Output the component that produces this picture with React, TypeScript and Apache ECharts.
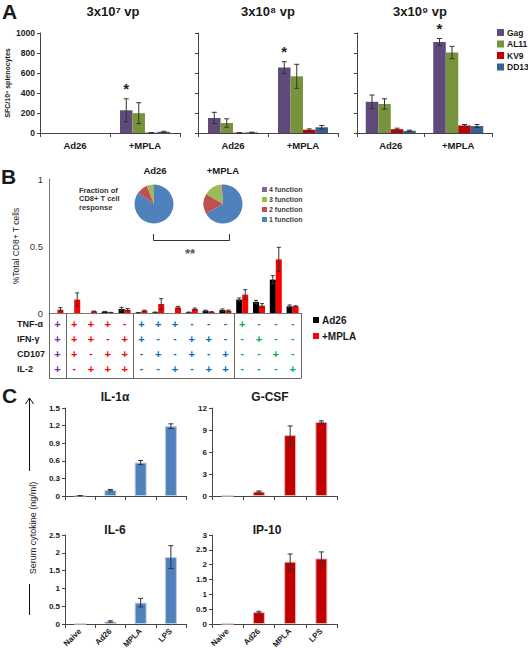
import React, { useEffect, useRef } from "react";
import * as echarts from "echarts";

const FONT = "Arial";

// ---------- Panel A ----------
const doseGroups = ["Ad26", "+MPLA"];
const antigens = ["Gag", "AL11", "KV9", "DD13"];
const antigenColors = ["#604A7B", "#77933C", "#C00000", "#376092"];
const doseTitles = ["3x10⁷ vp", "3x10⁸ vp", "3x10⁹ vp"];
// [antigen][group]
const dose7Mean = [[0, 227], [0, 198], [0, 3], [0, 12]];
const dose7Err = [[0, 115], [0, 105], [0, 2], [0, 5]];
const dose8Mean = [[150, 655], [100, 567], [3, 33], [6, 57]];
const dose8Err = [[57, 58], [42, 120], [1, 8], [2, 18]];
const dose9Mean = [[312, 910], [290, 805], [38, 75], [22, 70]];
const dose9Err = [[68, 35], [52, 62], [10, 10], [6, 15]];
const gagStars = [[false, true], [false, true], [false, true]];

// ---------- Panel B ----------
const functionCols = ["c1", "c2", "c3", "c4", "c5", "c6", "c7", "c8", "c9", "c10", "c11", "c12", "c13", "c14", "c15"];
const ad26Pct = [0, 0, 0, 0.01, 0.03, 0.003, 0.005, 0, 0.005, 0.017, 0.022, 0.1, 0.082, 0.249, 0.05];
const ad26PctErr = [0, 0, 0, 0.002, 0.012, 0.001, 0.002, 0, 0.002, 0.004, 0.008, 0.012, 0.012, 0.03, 0.01];
const mplaPct = [0.025, 0.1, 0.012, 0.004, 0.025, 0.017, 0.067, 0.042, 0.03, 0.008, 0.017, 0.137, 0.055, 0.4, 0.05];
const mplaPctErr = [0.015, 0.05, 0.002, 0.001, 0.008, 0.004, 0.04, 0.008, 0.007, 0.002, 0.005, 0.037, 0.015, 0.09, 0.004];
const tableRows = ["TNF-α", "IFN-γ", "CD107", "IL-2"];
const tnfSigns = ["+", "+", "+", "+", "-", "+", "+", "+", "-", "-", "-", "+", "-", "-", "-"];
const ifnSigns = ["+", "+", "+", "-", "+", "+", "-", "-", "+", "+", "-", "-", "+", "-", "-"];
const cd107Signs = ["+", "+", "-", "+", "+", "-", "+", "-", "+", "-", "+", "-", "-", "+", "-"];
const il2Signs = ["+", "-", "+", "+", "+", "-", "-", "+", "-", "+", "+", "-", "-", "-", "+"];
const colGroup = [0, 1, 1, 1, 1, 2, 2, 2, 2, 2, 2, 3, 3, 3, 3];
const groupColors = ["#7030A0", "#FF0000", "#0070C0", "#00B050"];
// table vertical rules: [column index, side] (side 0 = left edge, 1 = right edge)
const tableRules = [[0, 0], [1, 0], [5, 0], [11, 0], [14, 1]];
const pieNames = ["1 function", "2 function", "3 function", "4 function"];
const pieColors = ["#4F81BD", "#C0504D", "#9BBB59", "#8064A2"];
const pieAd26 = [0.85, 0.09, 0.055, 0.005];
const pieMpla = [0.67, 0.165, 0.155, 0.01];

// ---------- Panel C ----------
const treatments = ["Naive", "Ad26", "MPLA", "LPS"];
const il1a = [0.005, 0.1, 0.57, 1.19];
const il1aErr = [0.003, 0.012, 0.035, 0.04];
const gcsf = [0, 0.6, 8.3, 10.1];
const gcsfErr = [0, 0.08, 1.25, 0.15];
const il6 = [0, 0.07, 0.6, 1.88];
const il6Err = [0, 0.02, 0.12, 0.32];
const ip10 = [0, 0.4, 2.1, 2.21];
const ip10Err = [0, 0.03, 0.26, 0.22];

const fmt = (v: number) => String(+v.toFixed(2));

function errorRender(offset: number, cap: number, color: string, stars?: boolean[]) {
  return (params: any, api: any) => {
    const i = api.value(0);
    const v = api.value(1);
    const e = api.value(2);
    const hi = api.coord([i, v + e]);
    const x = hi[0] + offset;
    const children: any[] = [];
    if (e > 0) {
      const lo = api.coord([i, Math.max(0, v - e)]);
      const st = { stroke: color, lineWidth: 1 };
      children.push({ type: "line", shape: { x1: x, y1: hi[1], x2: x, y2: lo[1] }, style: st });
      children.push({ type: "line", shape: { x1: x - cap, y1: hi[1], x2: x + cap, y2: hi[1] }, style: st });
      children.push({ type: "line", shape: { x1: x - cap, y1: lo[1], x2: x + cap, y2: lo[1] }, style: st });
    }
    if (stars && stars[params.dataIndex]) {
      children.push({
        type: "text",
        x,
        y: hi[1] - 10,
        style: { text: "*", fill: "#222", fontSize: 15, fontWeight: "bold", fontFamily: FONT, align: "center", verticalAlign: "middle" },
      });
    }
    return { type: "group", children };
  };
}

function txt(text: string, x: number, y: number, size: number, o: any = {}) {
  return {
    type: "text",
    x,
    y,
    rotation: o.rotation || 0,
    style: {
      text,
      fontSize: size,
      fontFamily: FONT,
      fontWeight: o.bold === false ? "normal" : "bold",
      fill: o.fill || "#1a1a1a",
      align: o.align || "center",
      verticalAlign: o.va || "middle",
      lineHeight: o.lineHeight,
    },
  };
}

function buildOption() {
  const grid: any[] = [
    { left: 40, top: 33, width: 140, height: 100 },
    { left: 198, top: 33, width: 140, height: 100 },
    { left: 357, top: 33, width: 135, height: 100 },
    { left: 49, top: 179, width: 252, height: 134 },
    { left: 49, top: 316, width: 252, height: 60 },
    { left: 65, top: 408, width: 121, height: 88 },
    { left: 212, top: 408, width: 125, height: 88 },
    { left: 65, top: 535, width: 121, height: 89 },
    { left: 212, top: 535, width: 125, height: 89 },
  ].map((g) => ({ ...g, outerBoundsMode: "none", containLabel: false }));

  const xAxis: any[] = [];
  const yAxis: any[] = [];
  const series: any[] = [];
  const axisLine = { show: true, lineStyle: { color: "#444", width: 1 } };

  // Panel A
  const means = [dose7Mean, dose8Mean, dose9Mean];
  const errs = [dose7Err, dose8Err, dose9Err];
  for (let d = 0; d < 3; d++) {
    xAxis.push({
      type: "category", gridIndex: d, data: doseGroups, axisLine,
      axisTick: { show: true, length: 4, lineStyle: { color: "#444" } },
      axisLabel: { fontSize: 9.5, fontWeight: "bold", color: "#1a1a1a", fontFamily: FONT, margin: 7 },
    });
    yAxis.push({
      type: "value", gridIndex: d, min: 0, max: 1000, interval: 200, axisLine,
      axisTick: { show: true, length: 3, lineStyle: { color: "#444" } },
      splitLine: { show: false },
      axisLabel: { show: d === 0, fontSize: 8.5, fontWeight: "bold", color: "#1a1a1a", fontFamily: FONT, margin: 5, formatter: (v: number) => String(v) },
      name: d === 0 ? "SFC/10⁶ splenocytes" : "",
      nameLocation: "middle", nameGap: 29,
      nameTextStyle: { fontSize: 7, fontWeight: "bold", color: "#1a1a1a", fontFamily: FONT },
    });
    for (let a = 0; a < 4; a++) {
      series.push({
        type: "bar", name: antigens[a], xAxisIndex: d, yAxisIndex: d,
        data: means[d][a], barWidth: 12.5, barGap: "0%",
        itemStyle: { color: antigenColors[a] }, silent: true,
      });
    }
    for (let a = 0; a < 4; a++) {
      series.push({
        type: "custom", xAxisIndex: d, yAxisIndex: d, silent: true, z: 5,
        renderItem: errorRender((a - 1.5) * 12.5, 2.5, "#333", a === 0 ? gagStars[d] : undefined),
        encode: { x: 0, y: 1 },
        data: doseGroups.map((_, g) => [g, means[d][a][g], errs[d][a][g]]),
      });
    }
  }

  // Panel B main
  xAxis.push({
    type: "category", gridIndex: 3, data: functionCols,
    axisLine: { show: true, lineStyle: { color: "#777" } }, axisTick: { show: false }, axisLabel: { show: false },
  });
  yAxis.push({
    type: "value", gridIndex: 3, min: 0, max: 1, interval: 0.5,
    axisLine: { show: true, lineStyle: { color: "#777" } }, axisTick: { show: false }, splitLine: { show: false },
    axisLabel: { fontSize: 9.5, lineHeight: 9, color: "#333", fontFamily: FONT, margin: 6, formatter: fmt },
    name: "%Total CD8+ T cells", nameLocation: "middle", nameGap: 29,
    nameTextStyle: { fontSize: 8.5, color: "#222", fontFamily: FONT },
  });
  series.push(
    { type: "bar", name: "Ad26", xAxisIndex: 3, yAxisIndex: 3, data: ad26Pct, barWidth: 6, barGap: "0%", itemStyle: { color: "#000" }, silent: true },
    { type: "bar", name: "+MPLA", xAxisIndex: 3, yAxisIndex: 3, data: mplaPct, barWidth: 6, barGap: "0%", itemStyle: { color: "#FF0000" }, silent: true },
    {
      type: "custom", xAxisIndex: 3, yAxisIndex: 3, silent: true, z: 5, encode: { x: 0, y: 1 },
      renderItem: errorRender(-3, 2, "#333"),
      data: ad26Pct.map((v, i) => [i, v, ad26PctErr[i]]),
    },
    {
      type: "custom", xAxisIndex: 3, yAxisIndex: 3, silent: true, z: 5, encode: { x: 0, y: 1 },
      renderItem: errorRender(3, 2, "#333"),
      data: mplaPct.map((v, i) => [i, v, mplaPctErr[i]]),
    }
  );

  // Panel B table
  xAxis.push({
    type: "category", gridIndex: 4, data: functionCols,
    axisLine: { show: false }, axisTick: { show: false }, axisLabel: { show: false },
  });
  yAxis.push({
    type: "category", gridIndex: 4, data: tableRows, inverse: true,
    axisLine: { show: false }, axisTick: { show: false }, splitLine: { show: false },
    axisLabel: { align: "left", margin: 32, fontSize: 9, lineHeight: 9, fontWeight: "bold", color: "#1a1a1a", fontFamily: FONT },
  });
  const signRows = [tnfSigns, ifnSigns, cd107Signs, il2Signs];
  const signData: number[][] = [];
  const signText: string[] = [];
  const signColor: string[] = [];
  signRows.forEach((row, r) =>
    row.forEach((s, c) => {
      signData.push([c, r]);
      signText.push(s);
      signColor.push(groupColors[colGroup[c]]);
    })
  );
  series.push({
    type: "custom", xAxisIndex: 4, yAxisIndex: 4, silent: true, encode: { x: 0, y: 1 },
    data: signData,
    renderItem: (params: any, api: any) => {
      const p = api.coord([api.value(0), api.value(1)]);
      const i = params.dataIndex;
      const plus = signText[i] === "+";
      return {
        type: "text", x: p[0], y: p[1],
        style: {
          text: signText[i], fill: signColor[i], fontSize: plus ? 11 : 10, fontWeight: "bold",
          fontFamily: FONT, align: "center", verticalAlign: "middle",
        },
      };
    },
  });
  series.push({
    type: "custom", xAxisIndex: 4, yAxisIndex: 4, silent: true, encode: { x: 0, y: 1 },
    data: tableRules,
    renderItem: (params: any, api: any) => {
      const band = api.size([1, 0])[0];
      const x = Math.round(api.coord([api.value(0), 0])[0] - band / 2 + api.value(1) * band) + 0.5;
      const cs = params.coordSys;
      const top = cs.y - 3;
      const bottom = cs.y + cs.height + 2.5;
      const st = { stroke: "#666", lineWidth: 1 };
      const children: any[] = [{ type: "line", shape: { x1: x, y1: top, x2: x, y2: bottom }, style: st }];
      if (params.dataIndex === 0) {
        children.push({ type: "line", shape: { x1: cs.x, y1: bottom, x2: cs.x + cs.width, y2: bottom }, style: st });
      }
      return { type: "group", children };
    },
  });

  // Pies
  const pieSeries = (center: number[], vals: number[]) => ({
    type: "pie", center, radius: 19.5, startAngle: 90, clockwise: true, silent: true,
    label: { show: false }, labelLine: { show: false },
    itemStyle: { borderWidth: 0 },
    data: pieNames.map((n, k) => ({ name: n, value: vals[k], itemStyle: { color: pieColors[k] } })),
  });
  series.push(pieSeries([154, 204], pieAd26), pieSeries([223, 204], pieMpla));

  // Panel C
  const cSets = [
    { data: il1a, err: il1aErr, max: 1.5, interval: 0.3, color: "#4F81BD", border: "#B9CDE5", labels: false },
    { data: gcsf, err: gcsfErr, max: 12, interval: 3, color: "#C00000", border: "#E6B9B8", labels: false },
    { data: il6, err: il6Err, max: 2.5, interval: 0.5, color: "#4F81BD", border: "#B9CDE5", labels: true },
    { data: ip10, err: ip10Err, max: 3, interval: 0.5, color: "#C00000", border: "#E6B9B8", labels: true },
  ];
  cSets.forEach((s, k) => {
    const gi = 5 + k;
    xAxis.push({
      type: "category", gridIndex: gi, data: treatments, axisLine,
      axisTick: { show: true, length: 4, lineStyle: { color: "#444" } },
      axisLabel: { show: s.labels, rotate: 45, fontSize: 8, fontWeight: "bold", color: "#1a1a1a", fontFamily: FONT, margin: 6 },
    });
    yAxis.push({
      type: "value", gridIndex: gi, min: 0, max: s.max, interval: s.interval, axisLine,
      axisTick: { show: true, length: 3, lineStyle: { color: "#444" } }, splitLine: { show: false },
      axisLabel: { fontSize: 8, fontWeight: "bold", color: "#1a1a1a", fontFamily: FONT, margin: 5, formatter: fmt },
    });
    series.push({
      type: "bar", xAxisIndex: gi, yAxisIndex: gi, data: s.data, barWidth: 12, silent: true,
      itemStyle: { color: s.color, borderColor: s.border, borderWidth: 1 },
    });
    series.push({
      type: "custom", xAxisIndex: gi, yAxisIndex: gi, silent: true, z: 5, encode: { x: 0, y: 1 },
      renderItem: errorRender(0, 2.5, "#333"),
      data: s.data.map((v, i) => [i, v, s.err[i]]),
    });
  });

  const legend = [
    {
      data: antigens, orient: "vertical", left: 497, top: 28, padding: 0, itemWidth: 7, itemHeight: 7, itemGap: 2.5,
      icon: "rect", selectedMode: false,
      textStyle: { fontSize: 8.5, fontWeight: "bold", color: "#1a1a1a", fontFamily: FONT, padding: [0, 0, 0, -2] },
    },
    {
      data: ["4 function", "3 function", "2 function", "1 function"], orient: "vertical", left: 262, top: 186, padding: 0,
      itemWidth: 5, itemHeight: 5, itemGap: 3, icon: "rect", selectedMode: false,
      textStyle: { fontSize: 7, fontWeight: "bold", color: "#404040", fontFamily: FONT, padding: [0, 0, 0, -3] },
    },
    {
      data: ["Ad26", "+MPLA"], orient: "vertical", left: 313, top: 315, padding: 0,
      itemWidth: 6, itemHeight: 6, itemGap: 6, icon: "rect", selectedMode: false,
      textStyle: { fontSize: 10, fontWeight: "bold", color: "#1a1a1a", fontFamily: FONT, padding: [0, 0, 0, -2] },
    },
  ];

  const graphic: any[] = [
    txt("A", 2, 11, 21, { align: "left" }),
    txt("B", 1, 176, 21, { align: "left" }),
    txt("C", 2, 395, 21, { align: "left" }),
    txt(doseTitles[0], 113, 11, 13),
    txt(doseTitles[1], 268, 11, 13),
    txt(doseTitles[2], 420, 11, 13),
    txt("Ad26", 155, 170, 9.5),
    txt("+MPLA", 223, 170, 9.5),
    txt("Fraction of\nCD8+ T cell\nresponse", 79, 186, 7.5, { align: "left", va: "top", lineHeight: 8.6, fill: "#333" }),
    {
      type: "polyline",
      shape: { points: [[153.5, 234], [153.5, 240.5], [229.5, 240.5], [229.5, 234]] },
      style: { stroke: "#333", lineWidth: 1, fill: null },
    },
    txt("**", 190, 253, 13, { fill: "#555" }),
    txt("IL-1α", 115, 397, 12),
    txt("G-CSF", 270, 397, 12),
    txt("IL-6", 115, 530, 12),
    txt("IP-10", 267, 530, 12),
    txt("Serum cytokine (ng/ml)", 33, 528, 9, { bold: false, rotation: Math.PI / 2 }),
    { type: "line", shape: { x1: 29.5, y1: 471, x2: 29.5, y2: 398 }, style: { stroke: "#111", lineWidth: 1 } },
    { type: "polyline", shape: { points: [[25.5, 404], [29.5, 398], [33.5, 404]] }, style: { stroke: "#111", lineWidth: 1, fill: null } },
    { type: "line", shape: { x1: 29.5, y1: 584, x2: 29.5, y2: 615 }, style: { stroke: "#111", lineWidth: 1 } },
  ];

  return {
    animation: false,
    backgroundColor: "#fff",
    textStyle: { fontFamily: FONT },
    grid,
    xAxis,
    yAxis,
    series,
    legend,
    graphic,
  };
}

export default function App() {
  const ref = useRef<HTMLDivElement>(null);
  useEffect(() => {
    const chart = echarts.init(ref.current!, null, { renderer: "svg" });
    chart.setOption(buildOption() as any);
    return () => chart.dispose();
  }, []);
  return (
    <div
      ref={ref}
      style={{ position: "fixed", left: 0, top: 0, width: 528, height: 651, background: "#fff" }}
    />
  );
}
